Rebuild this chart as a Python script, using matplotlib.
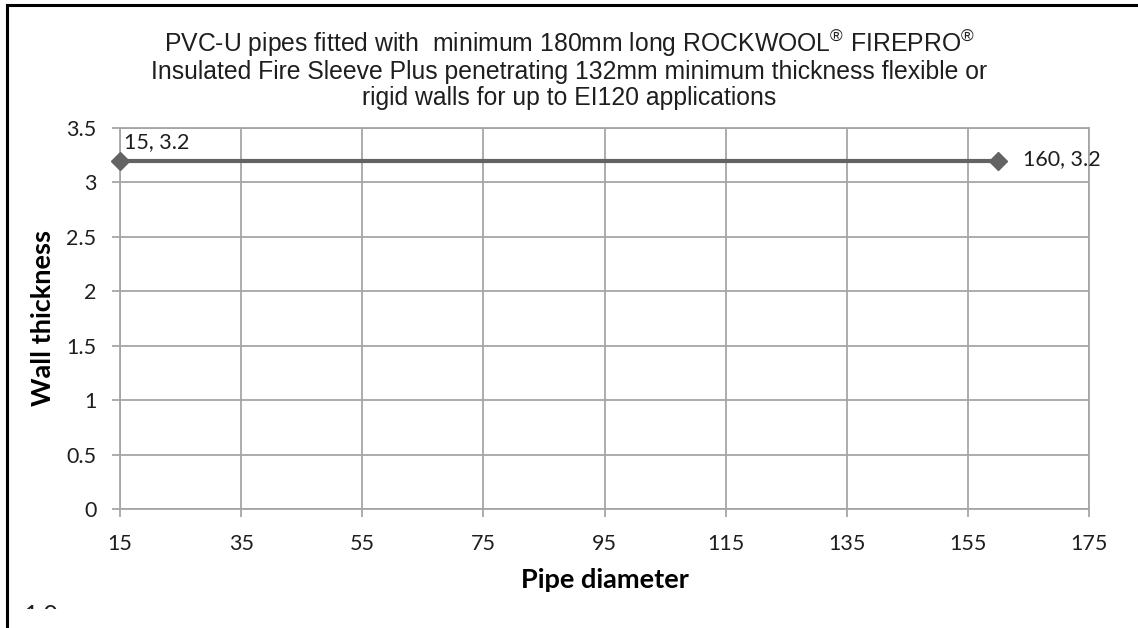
import matplotlib.pyplot as plt
from matplotlib.lines import Line2D
from matplotlib.patches import Rectangle

# chart data
pipe_diameter = [15, 160]
wall_thickness = [3.2, 3.2]
x_ticks = [15, 35, 55, 75, 95, 115, 135, 155, 175]
y_ticks = [0, 0.5, 1, 1.5, 2, 2.5, 3, 3.5]
y_tick_labels = ["0", "0.5", "1", "1.5", "2", "2.5", "3", "3.5"]

title_lines = [
    "PVC-U pipes fitted with  minimum 180mm long ROCKWOOL$^{\u00ae}$ FIREPRO$^{\u00ae}$",
    "Insulated Fire Sleeve Plus penetrating 132mm minimum thickness flexible or",
    "rigid walls for up to EI120 applications",
]

tick_font = "Lato"
grid_col = "#a6a6a6"
line_col = "#636363"
text_col = "#1e1e1e"

plt.rcParams["mathtext.default"] = "regular"

W, H = 1138, 628
fig = plt.figure(figsize=(W / 100, H / 100), dpi=100)
ax = fig.add_axes([120 / W, 1 - 509 / H, (1089 - 120) / W, (509 - 128) / H])

ax.plot(pipe_diameter, wall_thickness, color=line_col, lw=3, marker="D",
        markersize=9, zorder=3, clip_on=False)

ax.annotate(f"{pipe_diameter[0]}, {wall_thickness[0]:g}",
            (pipe_diameter[0], wall_thickness[0]), xytext=(3, 6),
            textcoords="offset points", ha="left", va="bottom",
            fontsize=15.5, family=tick_font, color=text_col)
ax.annotate(f"{pipe_diameter[1]}, {wall_thickness[1]:g}",
            (pipe_diameter[1], wall_thickness[1]), xytext=(18, 1),
            textcoords="offset points", ha="left", va="center",
            fontsize=15.5, family=tick_font, color=text_col)

ax.set_xlim(15, 175)
ax.set_ylim(0, 3.5)
ax.set_xticks(x_ticks)
ax.set_yticks(y_ticks)
ax.set_yticklabels(y_tick_labels)
ax.grid(True, color=grid_col, lw=1.3)
ax.set_axisbelow(True)
for s in ax.spines.values():
    s.set_color(grid_col)
    s.set_linewidth(1.3)
ax.tick_params(direction="out", length=6, width=1.3, color=grid_col,
               labelsize=15.5, labelcolor=text_col)
ax.tick_params(axis="x", pad=12)
ax.tick_params(axis="y", pad=11)
for lbl in ax.get_xticklabels() + ax.get_yticklabels():
    lbl.set_family(tick_font)

ax.set_xlabel("Pipe diameter", fontsize=19.5, fontweight="bold", family=tick_font, labelpad=10)
ax.set_ylabel("Wall thickness", fontsize=19.5, fontweight="bold", family=tick_font, labelpad=8)

# title, one line at a time so the spacing matches
for i, line in enumerate(title_lines):
    fig.text(0.5, 1 - (52 + 26.5 * i) / H, line, ha="center", va="baseline",
             fontsize=17.8, family="Liberation Sans", color=text_col)

# partly visible text at the bottom of the cropped page (only its top shows)
fig.text(24 / W, 1 - 604 / H, "1.0", fontsize=18, family=tick_font,
         color=text_col, va="top", zorder=1)
fig.add_artist(Rectangle((9 / W, 0), 120 / W, (H - 609) / H, facecolor="white",
                         edgecolor="none", transform=fig.transFigure, zorder=2))

# frame pieces from the cropped page
fig.add_artist(Line2D([7 / W, 7 / W], [0, 1 - 5 / H], color="black", lw=2.2,
                      transform=fig.transFigure, zorder=3))
fig.add_artist(Line2D([7 / W, 1], [1 - 5 / H, 1 - 5 / H], color="black", lw=2.2,
                      transform=fig.transFigure, zorder=3))

fig.savefig("out.png", dpi=100)
